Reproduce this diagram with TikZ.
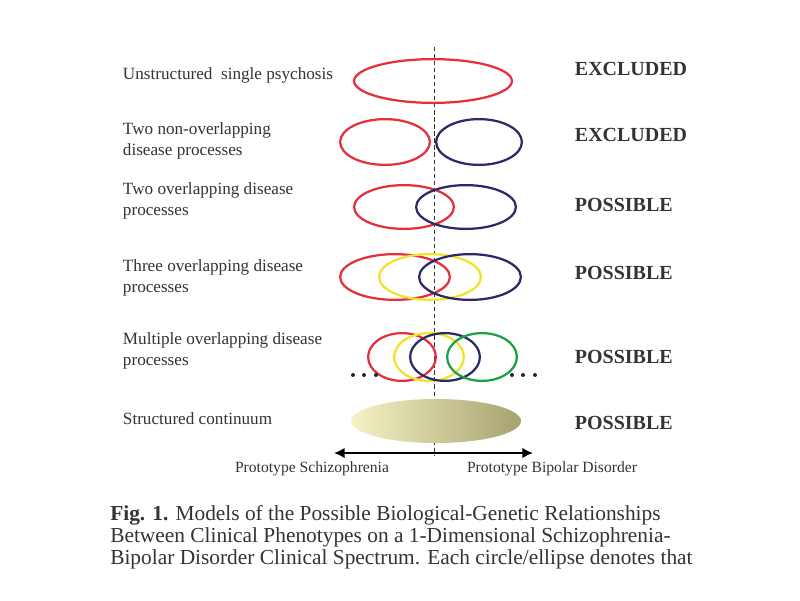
\documentclass[tikz,border=0pt]{standalone}
\usepackage{fontspec}
\setmainfont{Liberation Serif}
\usetikzlibrary{arrows.meta,positioning,shapes.geometric}
\definecolor{Red}{HTML}{E5303C}
\definecolor{Navy}{HTML}{2A2A68}
\definecolor{Yellow}{HTML}{F2E22A}
\definecolor{Green}{HTML}{1CA045}
\definecolor{PaleOlive}{HTML}{F5F2C4}
\definecolor{DarkOlive}{HTML}{A6A270}
\definecolor{Caption}{HTML}{333333}

\begin{document}
\begin{tikzpicture}[
  x=0.025cm,y=-0.025cm,>={Latex[length=7.5pt,width=7.5pt]},
  ring/.style 2 args={draw,ellipse,line width=1.6pt,inner sep=0pt,outer sep=0pt,
    minimum width=#1*0.7113pt-1.6pt,minimum height=#2*0.7113pt-1.6pt},
  model/.style={anchor=west,align=left,font=\fontsize{12.2}{15}\selectfont,text=Caption},
  verdict/.style={anchor=west,font=\fontsize{14.2}{16}\selectfont\bfseries,text=Caption},
  pole/.style={font=\fontsize{11.1}{13}\selectfont,text=Caption}
]
  \useasboundingbox (0,0) rectangle (800,600);
  % spectrum midline
  \coordinate (top) at (434,47);
  \coordinate (bottom) at (434,456);
  \draw[densely dashed,thin,black!80] (top) -- (bottom);
  % row 1
  \node[model] (m1) at (118,75) {Unstructured\ \ single psychosis};
  \node[ring={160}{46},Red] (single) at (433,81) {};
  \node[verdict] (v1) at (570,69) {EXCLUDED};
  % row 2
  \node[model] (m2) at (118,141) {Two non-overlapping\\disease processes};
  \node[ring={92}{48},Red] (twoR) at (385,142) {};
  \node[ring={88}{48},Navy] (twoB) at (479,142) {};
  \node[verdict] (v2) at (570,135) {EXCLUDED};
  % row 3
  \node[model] (m3) at (118,201) {Two overlapping disease\\processes};
  \node[ring={102}{46},Red] (ovR) at (404,207) {};
  \node[ring={102}{46},Navy] (ovB) at (466,207) {};
  \node[verdict] (v3) at (570,205) {POSSIBLE};
  % row 4
  \node[model] (m4) at (118,278) {Three overlapping disease\\processes};
  \node[ring={112}{48},Red] (thrR) at (395,277) {};
  \node[ring={104}{48},Yellow] (thrY) at (430,277) {};
  \node[ring={104}{48},Navy] (thrB) at (470,277) {};
  \node[verdict] (v4) at (570,273) {POSSIBLE};
  % row 5
  \node[model] (m5) at (118,351) {Multiple overlapping disease\\processes};
  \node[ring={70}{50},Red] (mulR) at (402,357) {};
  \node[ring={72}{50},Yellow] (mulY) at (429,357) {};
  \node[ring={72}{50},Navy] (mulB) at (445,357) {};
  \node[ring={72}{50},Green] (mulG) at (482,357) {};
  \foreach \x in {353,364,376,512,523,535}
    \fill[black!85] (\x,375) circle (2);
  \node[verdict] (v5) at (570,357) {POSSIBLE};
  % row 6
  \node[model] (m6) at (118,419) {Structured continuum};
  \node[ellipse,left color=PaleOlive,right color=DarkOlive,inner sep=0pt,
    minimum width=170*0.7113pt,minimum height=44*0.7113pt] (cont) at (436,421) {};
  \node[verdict] (v6) at (570,423) {POSSIBLE};
  % spectrum axis
  \coordinate (left) at (334,453);
  \coordinate (right) at (533,453);
  \draw[<->,line width=2pt] (left) -- (right);
  \node[pole] (schizo) at (312,469) {Prototype Schizophrenia};
  \node[pole] (bipolar) at (552,469) {Prototype Bipolar Disorder};
  % caption
  \node[anchor=north west,align=left,inner sep=0pt,font=\fontsize{15.2}{15.8}\selectfont,text=Caption] (caption) at (110,505)
    {\textbf{Fig. 1.} Models of the Possible Biological-Genetic Relationships\\
     Between Clinical Phenotypes on a 1-Dimensional Schizophrenia-\\
     Bipolar Disorder Clinical Spectrum. Each circle/ellipse denotes that};
\end{tikzpicture}
\end{document}
